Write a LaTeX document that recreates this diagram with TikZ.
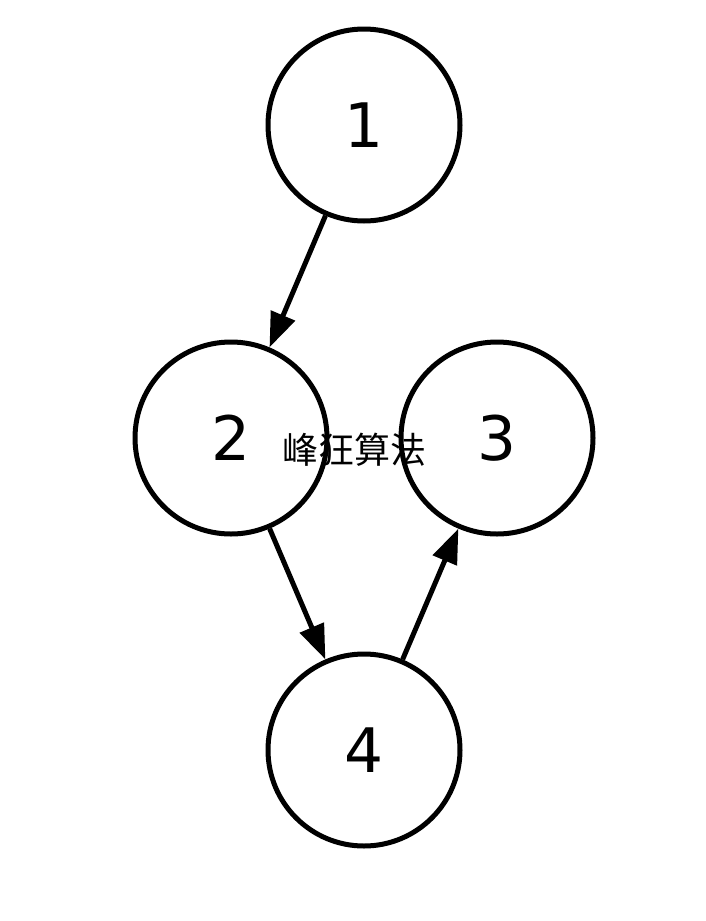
\documentclass[tikz,border=0pt]{standalone}
\usepackage{fontspec}
\setmainfont{DejaVu Sans}
\newfontfamily\cjk{Noto Sans CJK SC}
\usetikzlibrary{arrows.meta}
\tikzset{every picture/.style={line width=3.75pt}}
\tikzset{
  vertex/.style={draw, circle, minimum size=144pt, inner sep=0pt, font=\fontsize{46}{46}\selectfont},
  edge/.style={-{Triangle[length=26pt,width=19pt]}}
}
\begin{document}
\begin{tikzpicture}[x=0.75pt,y=0.75pt,yscale=-1]
\useasboundingbox (0,0) rectangle (706,921);
% Nodes
\node[vertex] (n1) at (364,125) {1};
\node[vertex] (n2) at (231,438) {2};
\node[vertex] (n3) at (497,438) {3};
\node[vertex] (n4) at (364,750) {4};
% Label
\node[font=\cjk\fontsize{27}{27}\selectfont, inner sep=0pt] (lbl) at (354,450) {峰狂算法};
% Edges
\draw[edge] (n1) -- (n2);
\draw[edge] (n2) -- (n4);
\draw[edge] (n4) -- (n3);
\end{tikzpicture}
\end{document}
